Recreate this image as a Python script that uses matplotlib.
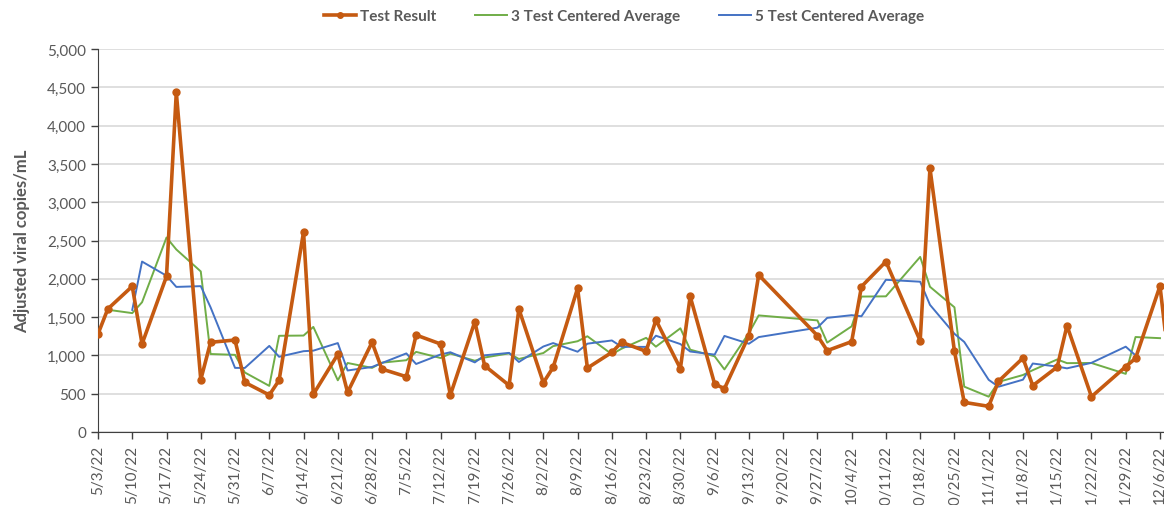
import numpy as np
import pandas as pd
import matplotlib
matplotlib.use("Agg")
import matplotlib.pyplot as plt
from matplotlib.ticker import FuncFormatter

plt.rcParams['font.family'] = ['Lato', 'DejaVu Sans']

# Test dates (2022) and values
dates = ["5/3", "5/5", "5/10", "5/12", "5/17", "5/19", "5/24", "5/26", "5/31", "6/2",
         "6/7", "6/9", "6/14", "6/16", "6/21", "6/23", "6/28", "6/30", "7/5", "7/7",
         "7/12", "7/14", "7/19", "7/21", "7/26", "7/28", "8/2", "8/4", "8/9", "8/11",
         "8/16", "8/18", "8/23", "8/25", "8/30", "9/1", "9/6", "9/8", "9/13", "9/15",
         "9/27", "9/29", "10/4", "10/6", "10/11", "10/18", "10/20", "10/25", "10/27", "11/1",
         "11/3", "11/8", "11/10", "11/15", "11/17", "11/22", "11/29", "12/1", "12/6", "12/8"]
test_result = [1279, 1606, 1902, 1149, 2032, 4435, 683, 1171, 1201, 648,
               483, 675, 2611, 492, 1014, 518, 1171, 822, 722, 1266,
               1149, 483, 1440, 866, 609, 1606, 644, 844, 1876, 835,
               1040, 1171, 1053, 1462, 828, 1771, 627, 566, 1258, 2050,
               1258, 1062, 1180, 1898, 2225, 1190, 3442, 1055, 387, 335,
               662, 966, 605, 849, 1388, 461, 853, 962, 1906, 800]
# 3 test centered average: 5/5 .. 12/6
avg3 = [1596, 1552, 1694, 2539, 2383, 2096, 1018, 1007, 777,
        602, 1256, 1259, 1372, 675, 901, 837, 905, 937, 1046,
        966, 1024, 930, 972, 1027, 953, 1031, 1121, 1185, 1250,
        1015, 1088, 1229, 1114, 1354, 1075, 988, 817, 1291, 1522,
        1457, 1167, 1380, 1768, 1771, 2286, 1896, 1628, 592, 461,
        654, 744, 807, 947, 899, 901, 759, 1240, 1225]
# 5 test centered average: 5/10 .. 12/1
avg5 = [1594, 2225, 2040, 1894, 1904, 1628, 837, 836,
        1124, 982, 1055, 1062, 1161, 803, 849, 900, 1026, 888,
        1012, 1041, 909, 1001, 1033, 914, 1116, 1161, 1048, 1153,
        1195, 1112, 1111, 1257, 1148, 1051, 1010, 1254, 1152, 1239,
        1362, 1490, 1525, 1511, 1987, 1962, 1660, 1282, 1176, 681,
        591, 683, 894, 854, 831, 903, 1114, 1001]

x = pd.to_datetime([d + "/2022" for d in dates], format="%m/%d/%Y")

fig = plt.figure(figsize=(11.64, 5.06), dpi=100)
ax = fig.add_axes([98 / 1164, (506 - 433) / 506, 1 - 98 / 1164, 383 / 506])

ax.plot(x, test_result, color="#C55A11", lw=2.6, marker="o", ms=5,
        label="Test Result", zorder=4)
ax.plot(x[1:1 + len(avg3)], avg3, color="#70AD47", lw=1.4,
        label="3 Test Centered Average", zorder=3)
ax.plot(x[2:2 + len(avg5)], avg5, color="#4472C4", lw=1.4,
        label="5 Test Centered Average", zorder=3)

start = pd.Timestamp("2022-05-03")
ax.set_xlim(start, pd.Timestamp("2022-12-06") + pd.Timedelta(days=0.82))
ax.set_ylim(0, 5000)
ax.set_yticks(np.arange(0, 5001, 500))
ax.yaxis.set_major_formatter(FuncFormatter(lambda v, p: f"{v:,.0f}"))

ticks = pd.date_range(start, "2022-12-06", freq="7D")
ax.set_xticks(ticks)
ax.set_xticklabels([f"{t.month}/{t.day}/22" for t in ticks], rotation=90,
                   ha="center", va="top")

ax.grid(axis="y", color="#D9D9D9", lw=1.2)
ax.set_axisbelow(True)
for s in ["top", "right"]:
    ax.spines[s].set_visible(False)
ax.spines["left"].set_color("#404040")
ax.spines["bottom"].set_color("#404040")
ax.tick_params(axis="both", colors="#404040", labelcolor="#595959",
               labelsize=11, length=5, width=1)
ax.tick_params(axis="x", pad=4)

ax.set_ylabel("Adjusted viral copies/mL", fontsize=12, fontweight="bold",
              color="#595959", labelpad=12)

leg = fig.legend(loc="center", bbox_to_anchor=(624 / 1164, 1 - 17 / 506), ncol=3,
                 frameon=False, handlelength=2.1, columnspacing=2.5,
                 handletextpad=0.3, markerscale=0.8,
                 prop={"size": 11, "weight": "bold"})
for t in leg.get_texts():
    t.set_color("#595959")

fig.savefig("out.png", dpi=100)
